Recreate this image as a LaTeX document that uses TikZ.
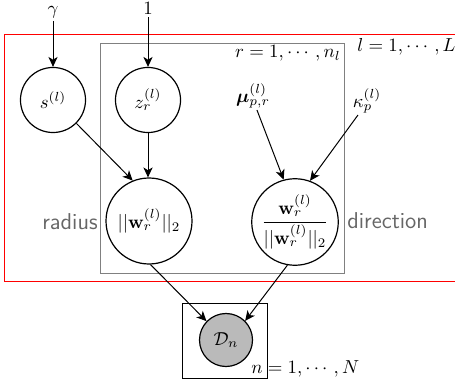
\documentclass[tikz,border=0pt]{standalone}
\usepackage{amsmath}
\usetikzlibrary{arrows.meta}
\begin{document}
\begin{tikzpicture}[x=0.532pt,y=-0.532pt,
  latent/.style={circle,draw,line width=0.64pt,inner sep=0pt},
  obs/.style={latent,fill=black!27},
  lbl/.style={inner sep=1pt},
  plate/.style={draw=black!50,line width=0.6pt},
  arr/.style={-{Stealth[length=5.3pt,width=4.9pt,inset=1.5pt]},line width=0.53pt},
  word/.style={text=black!60,font=\fontsize{12.2}{14}\selectfont\sffamily,inner sep=0pt}]
\useasboundingbox (0,0) rectangle (455,388);
% plates
\draw[red,line width=0.532pt] (456,34.5) -- (4.5,34.5) -- (4.5,281.5) -- (456,281.5);
\draw[plate] (100.5,43.5) rectangle (344.5,273.5);
\draw[line width=0.55pt] (182.5,303.5) rectangle (267.5,378.5);
\node[lbl,inner sep=0pt,anchor=base east] (rlab) at (341,58) {$r=1,\cdots,n_l$};
\node[lbl,inner sep=0pt,anchor=base west] (llab) at (357,52) {$l=1,\cdots,L$};
\node[lbl,inner sep=0pt,anchor=base west] (nlab) at (251,373) {$n=1,\cdots,N$};
% hyperparameters
\node[lbl,anchor=base] (gamma) at (53,15) {$\gamma$};
\node[lbl,anchor=base] (one) at (148,15) {$1$};
\node[lbl,anchor=base] (mu) at (253,103) {$\boldsymbol{\mu}_{p,r}^{(l)}$};
\node[lbl,anchor=base] (kappa) at (367,108) {$\kappa_p^{(l)}$};
% nodes
\node[latent,minimum size=34.6pt] (s) at (53,100) {$s^{(l)}$};
\node[latent,minimum size=34.6pt] (z) at (148,100) {$z_r^{(l)}$};
\node[latent,minimum size=45.75pt] (rad) at (149,221) {$||\mathbf{w}_r^{(l)}||_2$};
\node[latent,minimum size=45.75pt] (dir) at (295,222) {$\dfrac{\mathbf{w}_r^{(l)}}{||\mathbf{w}_r^{(l)}||_2}$};
\node[obs,minimum size=28.2pt] (D) at (226,340) {$\mathcal{D}_n$};
% words
\node[word,anchor=base east] (radw) at (98,229) {radius};
\node[word,anchor=base west] (dirw) at (347,228) {direction};
% edges
\draw[arr] (gamma.south) -- (s.north);
\draw[arr] (one.south) -- (z.north);
\draw[arr] (s.-45) -- (rad.112);
\draw[arr] (z.south) -- (z.south |- rad.north);
\draw[arr] ([xshift=2.1pt]mu.south) -- (dir.105);
\draw[arr] ([xshift=-4.8pt]kappa.south) -- (dir.70);
\draw[arr] (rad.-88) -- (D.136);
\draw[arr] (dir.-100) -- (D.45);
\end{tikzpicture}
\end{document}
